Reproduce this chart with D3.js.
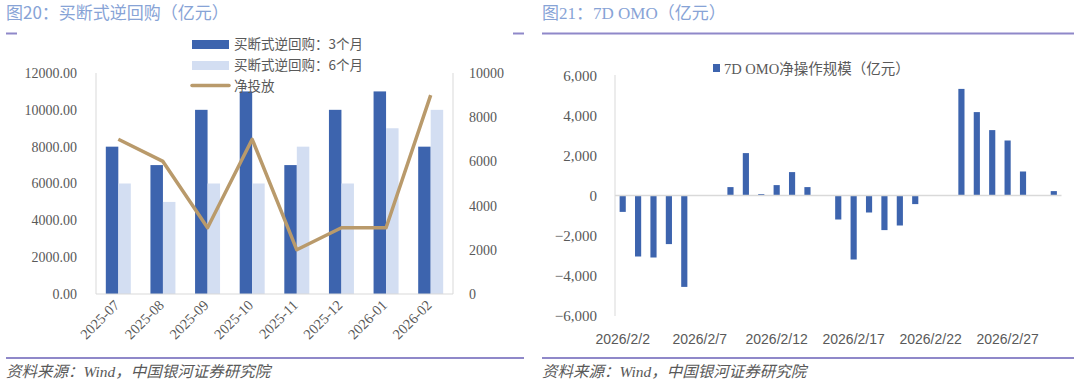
<!DOCTYPE html>
<html>
<head>
<meta charset="utf-8">
<script src="https://cdn.jsdelivr.net/npm/d3@7"></script>
<style>
  body { margin: 0; background: #fff; }
  svg { display: block; }
</style>
</head>
<body>
<div class="charts"></div>
<script>
// 左图：买断式逆回购（亿元）
var months = ["2025-07", "2025-08", "2025-09", "2025-10", "2025-11", "2025-12", "2026-01", "2026-02"];
var outright3m = [8000, 7000, 10000, 11000, 7000, 10000, 11000, 8000];
var outright6m = [6000, 5000, 6000, 6000, 8000, 6000, 9000, 10000];
var netInjection = [7000, 6000, 3000, 7000, 2000, 3000, 3000, 9000];
var leftTicks = [0, 2000, 4000, 6000, 8000, 10000, 12000];
var rightTicks = [0, 2000, 4000, 6000, 8000, 10000];

// 右图：7D OMO（亿元）
var days = ["2026/2/2", "2026/2/3", "2026/2/4", "2026/2/5", "2026/2/6", "2026/2/7", "2026/2/8",
  "2026/2/9", "2026/2/10", "2026/2/11", "2026/2/12", "2026/2/13", "2026/2/14", "2026/2/15",
  "2026/2/16", "2026/2/17", "2026/2/18", "2026/2/19", "2026/2/20", "2026/2/21", "2026/2/22",
  "2026/2/23", "2026/2/24", "2026/2/25", "2026/2/26", "2026/2/27", "2026/2/28", "2026/3/1", "2026/3/2"];
var omoNet = [-820, -3050, -3100, -2430, -4570, null, null,
  420, 2120, 70, 520, 1170, 420, null,
  -1200, -3200, -850, -1730, -1500, -430, null,
  null, 5330, 4170, 3270, 2750, 1200, null, 220];
var omoTicks = [-6000, -4000, -2000, 0, 2000, 4000, 6000];

var dark = "#3d64ae", light = "#d3def2", tan = "#b99a6b";
var purple = "#8f88c9", axisGray = "#d9d9d9", textGray = "#595959", titleBlue = "#87a3d6";
var serif = "'Liberation Serif', 'Noto Sans CJK SC', serif";
var cjk = "'Noto Sans CJK SC', sans-serif";

var svg = d3.select(".charts")
  .append("svg")
  .attr("width", 1080)
  .attr("height", 382);

// ---------- 标题、分隔线、来源 ----------
svg.append("text").attr("x", 6).attr("y", 19)
  .style("font-family", cjk).style("font-size", "17px").style("fill", titleBlue)
  .text("图20：买断式逆回购（亿元）");
svg.append("text").attr("x", 542).attr("y", 19)
  .style("font-family", "'Liberation Serif', 'Noto Sans CJK SC'").style("font-size", "17px").style("fill", titleBlue)
  .text("图21：7D OMO（亿元）");

[[6, 17], [513, 524], [542, 1074]].forEach(function(s) {
  svg.append("line").attr("x1", s[0]).attr("x2", s[1]).attr("y1", 33.5).attr("y2", 33.5)
    .attr("stroke", purple).attr("stroke-width", 2);
});
[[6, 524], [542, 1074]].forEach(function(s) {
  svg.append("line").attr("x1", s[0]).attr("x2", s[1]).attr("y1", 358).attr("y2", 358)
    .attr("stroke", purple).attr("stroke-width", 2);
});
[6, 542].forEach(function(x) {
  svg.append("text").attr("x", x).attr("y", 377)
    .style("font-family", serif).style("font-size", "15.5px").style("font-style", "italic")
    .style("fill", textGray)
    .text("资料来源：Wind，中国银河证券研究院");
});

// ---------- 左图 ----------
var x0 = d3.scaleBand().domain(months).range([96, 453]).paddingInner(0.44).paddingOuter(0.22);
var x1 = d3.scaleBand().domain(["m3", "m6"]).range([0, x0.bandwidth()]);
var yL = d3.scaleLinear().domain([0, 12000]).range([294, 73]);
var yR = d3.scaleLinear().domain([0, 10000]).range([294, 73]);

var left = svg.append("g");

left.append("line").attr("x1", 96).attr("x2", 96).attr("y1", 73).attr("y2", 294).attr("stroke", axisGray);
left.append("line").attr("x1", 453).attr("x2", 453).attr("y1", 73).attr("y2", 294).attr("stroke", axisGray);

var groups = left.selectAll(".grp")
  .data(months)
  .enter().append("g")
  .attr("transform", function(d) { return "translate(" + x0(d) + ",0)"; });

groups.append("rect")
  .attr("x", x1("m3"))
  .attr("width", x1.bandwidth())
  .attr("y", function(d, i) { return yL(outright3m[i]); })
  .attr("height", function(d, i) { return yL(0) - yL(outright3m[i]); })
  .attr("fill", dark);

groups.append("rect")
  .attr("x", x1("m6"))
  .attr("width", x1.bandwidth())
  .attr("y", function(d, i) { return yL(outright6m[i]); })
  .attr("height", function(d, i) { return yL(0) - yL(outright6m[i]); })
  .attr("fill", light);

left.append("line").attr("x1", 96).attr("x2", 453).attr("y1", 294).attr("y2", 294).attr("stroke", axisGray);

var line = d3.line()
  .x(function(d, i) { return x0(months[i]) + x0.bandwidth() / 2; })
  .y(function(d) { return yR(d); });

left.append("path")
  .datum(netInjection)
  .attr("fill", "none")
  .attr("stroke", tan)
  .attr("stroke-width", 3.5)
  .attr("stroke-linejoin", "round")
  .attr("d", line);

var axL = left.append("g")
  .attr("transform", "translate(96,0)")
  .call(d3.axisLeft(yL).tickValues(leftTicks).tickSize(0).tickPadding(19).tickFormat(d3.format(".2f")));
var axR = left.append("g")
  .attr("transform", "translate(453,0)")
  .call(d3.axisRight(yR).tickValues(rightTicks).tickSize(0).tickPadding(16).tickFormat(d3.format("d")));
[axL, axR].forEach(function(a) {
  a.select(".domain").remove();
  a.selectAll("text").style("font-family", serif).style("font-size", "14px").style("fill", textGray);
});

left.selectAll(".xlab")
  .data(months)
  .enter().append("text")
  .attr("text-anchor", "end")
  .attr("transform", function(d) {
    return "translate(" + (x0(d) + x0.bandwidth() / 2 + 2) + ",306) rotate(-45)";
  })
  .style("font-family", serif).style("font-size", "14.5px").style("fill", textGray)
  .text(function(d) { return d; });

// 左图图例
var legL = left.append("g");
legL.append("rect").attr("x", 192).attr("y", 40).attr("width", 37).attr("height", 9).attr("fill", dark);
legL.append("rect").attr("x", 192).attr("y", 61).attr("width", 37).attr("height", 9).attr("fill", light);
legL.append("line").attr("x1", 192).attr("x2", 229).attr("y1", 85.5).attr("y2", 85.5)
  .attr("stroke", tan).attr("stroke-width", 3.5).attr("stroke-linecap", "round");
var legNames = ["买断式逆回购：3个月", "买断式逆回购：6个月", "净投放"];
legL.selectAll("text")
  .data(legNames)
  .enter().append("text")
  .attr("x", 234)
  .attr("y", function(d, i) { return 44.5 + i * 20.7; })
  .attr("dy", "0.35em")
  .style("font-family", cjk).style("font-size", "13.5px").style("fill", textGray)
  .text(function(d) { return d; });

// ---------- 右图 ----------
var xo = d3.scaleBand().domain(days).range([615, 1061.5]).paddingInner(0.6).paddingOuter(0.3);
var yo = d3.scaleLinear().domain([-6000, 6000]).range([315.5, 75.5]);

var right = svg.append("g");

right.append("line").attr("x1", 615).attr("x2", 615).attr("y1", 75).attr("y2", 316).attr("stroke", axisGray);

right.selectAll(".omo")
  .data(days.filter(function(d, i) { return omoNet[i] !== null; }))
  .enter().append("rect")
  .attr("x", function(d) { return xo(d); })
  .attr("width", xo.bandwidth())
  .attr("y", function(d) { var v = omoNet[days.indexOf(d)]; return yo(Math.max(v, 0)); })
  .attr("height", function(d) { var v = omoNet[days.indexOf(d)]; return Math.abs(yo(v) - yo(0)); })
  .attr("fill", dark);

right.append("line").attr("x1", 615).attr("x2", 1061.5).attr("y1", yo(0)).attr("y2", yo(0))
  .attr("stroke", axisGray).attr("stroke-width", 1.5);

var axO = right.append("g")
  .attr("transform", "translate(615,0)")
  .call(d3.axisLeft(yo).tickValues(omoTicks).tickSize(0).tickPadding(18).tickFormat(d3.format(",")));
axO.select(".domain").remove();
axO.selectAll("text").style("font-family", serif).style("font-size", "15px").style("fill", textGray);

right.selectAll(".dlab")
  .data(days.filter(function(d, i) { return i % 5 === 0 && i < 26; }))
  .enter().append("text")
  .attr("x", function(d) { return xo(d) + xo.bandwidth() / 2; })
  .attr("y", 339)
  .attr("dy", "0.35em")
  .attr("text-anchor", "middle")
  .style("font-family", "'Liberation Sans', sans-serif").style("font-size", "14px").style("fill", textGray)
  .text(function(d) { return d; });

// 右图图例
right.append("rect").attr("x", 713).attr("y", 64).attr("width", 7).attr("height", 8).attr("fill", dark);
right.append("text").attr("x", 724).attr("y", 69).attr("dy", "0.35em")
  .style("font-family", serif).style("font-size", "14.5px").style("fill", textGray)
  .text("7D OMO净操作规模（亿元）");
</script>
</body>
</html>
